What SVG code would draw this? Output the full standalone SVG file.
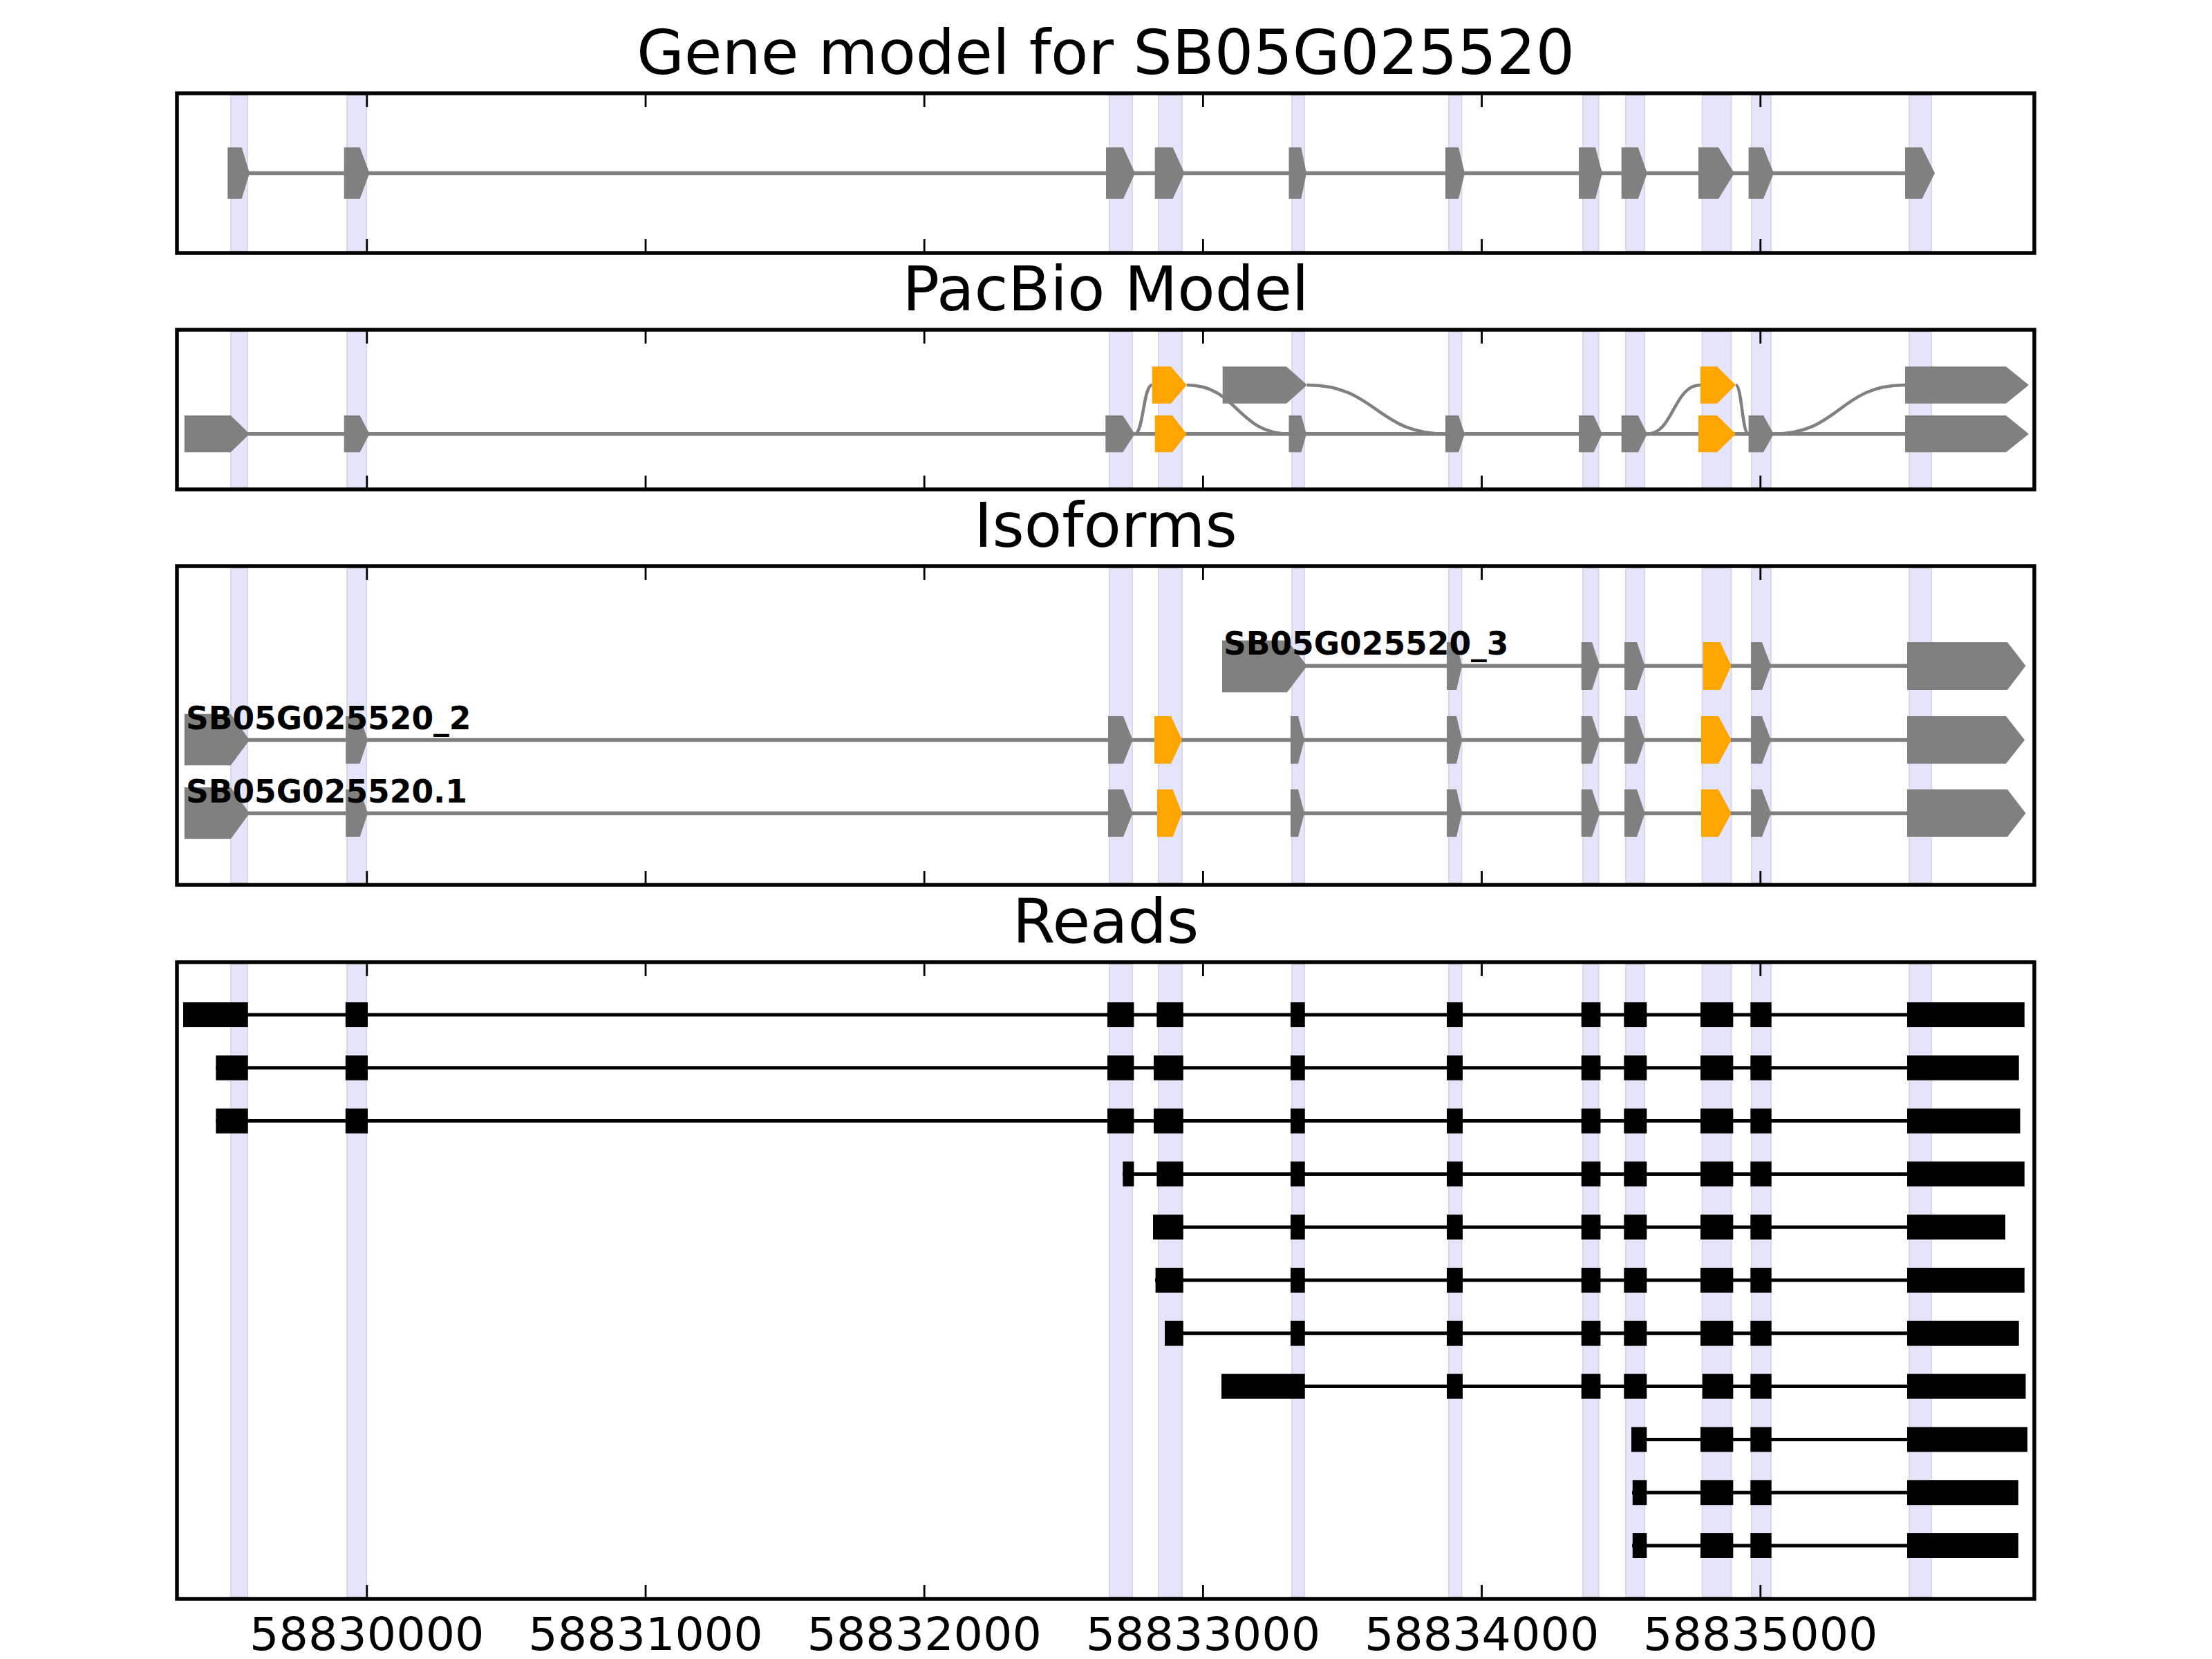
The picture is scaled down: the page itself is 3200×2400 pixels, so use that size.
<svg xmlns="http://www.w3.org/2000/svg" width="3200" height="2400" viewBox="0 0 3200 2400">
<style>
.bg{fill:#ffffff}
.band{fill:#e4e4fa;stroke:#d8d8e8;stroke-width:2}
.frame{fill:none;stroke:#000;stroke-width:5.5}
.tick{stroke:#000;stroke-width:2.8}
.title{font-family:"DejaVu Sans",sans-serif;font-size:88.9px;text-anchor:middle;fill:#000}
.ticklbl{font-family:"DejaVu Sans",sans-serif;font-size:66.7px;text-anchor:middle;fill:#000}
.lbl{font-family:"DejaVu Sans",sans-serif;font-size:45.5px;font-weight:bold;fill:#000}
.ex{fill:#808080}
.alt{fill:#ffa500}
.intron{stroke:#808080;stroke-width:5.5;fill:none}
.curve{stroke:#808080;stroke-width:4.5;fill:none}
.rintron{stroke:#000;stroke-width:5;fill:none}
.rb{fill:#000}
</style>
<rect class="bg" x="0" y="0" width="3200" height="2400"/>

<!-- highlight bands -->
<g id="bands">
<g id="bands-p1">
<rect class="band" x="334" y="138" width="24" height="225"/><rect class="band" x="502" y="138" width="28" height="225"/><rect class="band" x="1605" y="138" width="33" height="225"/><rect class="band" x="1676" y="138" width="34" height="225"/><rect class="band" x="1869" y="138" width="18" height="225"/><rect class="band" x="2096" y="138" width="18.5" height="225"/><rect class="band" x="2290" y="138" width="22.7" height="225"/><rect class="band" x="2352" y="138" width="27" height="225"/><rect class="band" x="2462.7" y="138" width="41.9" height="225"/><rect class="band" x="2534" y="138" width="28" height="225"/><rect class="band" x="2762" y="138" width="32" height="225"/>
</g>
<g id="bands-p2">
<rect class="band" x="334" y="480" width="24" height="225"/><rect class="band" x="502" y="480" width="28" height="225"/><rect class="band" x="1605" y="480" width="33" height="225"/><rect class="band" x="1676" y="480" width="34" height="225"/><rect class="band" x="1869" y="480" width="18" height="225"/><rect class="band" x="2096" y="480" width="18.5" height="225"/><rect class="band" x="2290" y="480" width="22.7" height="225"/><rect class="band" x="2352" y="480" width="27" height="225"/><rect class="band" x="2462.7" y="480" width="41.9" height="225"/><rect class="band" x="2534" y="480" width="28" height="225"/><rect class="band" x="2762" y="480" width="32" height="225"/>
</g>
<g id="bands-p3">
<rect class="band" x="334" y="822" width="24" height="455"/><rect class="band" x="502" y="822" width="28" height="455"/><rect class="band" x="1605" y="822" width="33" height="455"/><rect class="band" x="1676" y="822" width="34" height="455"/><rect class="band" x="1869" y="822" width="18" height="455"/><rect class="band" x="2096" y="822" width="18.5" height="455"/><rect class="band" x="2290" y="822" width="22.7" height="455"/><rect class="band" x="2352" y="822" width="27" height="455"/><rect class="band" x="2462.7" y="822" width="41.9" height="455"/><rect class="band" x="2534" y="822" width="28" height="455"/><rect class="band" x="2762" y="822" width="32" height="455"/>
</g>
<g id="bands-p4">
<rect class="band" x="334" y="1395" width="24" height="915"/><rect class="band" x="502" y="1395" width="28" height="915"/><rect class="band" x="1605" y="1395" width="33" height="915"/><rect class="band" x="1676" y="1395" width="34" height="915"/><rect class="band" x="1869" y="1395" width="18" height="915"/><rect class="band" x="2096" y="1395" width="18.5" height="915"/><rect class="band" x="2290" y="1395" width="22.7" height="915"/><rect class="band" x="2352" y="1395" width="27" height="915"/><rect class="band" x="2462.7" y="1395" width="41.9" height="915"/><rect class="band" x="2534" y="1395" width="28" height="915"/><rect class="band" x="2762" y="1395" width="32" height="915"/>
</g>
</g>

<!-- connectors: introns and splice curves -->
<g id="connectors">
<line class="intron" x1="340" y1="250.5" x2="2780" y2="250.5"/>
<line class="intron" x1="300" y1="627.7" x2="2800" y2="627.7"/>
<path class="curve" d="M1641.7 627.7 C1654 627.7 1654 557 1666.7 557"/>
<path class="curve" d="M1716.7 557 C1790 557 1790 627.7 1864.5 627.7"/>
<path class="curve" d="M1891 557 C1991 557 1991 627.7 2091 627.7"/>
<path class="curve" d="M2383 627.7 C2421 627.7 2421 557 2460 557"/>
<path class="curve" d="M2511 557 C2520 557 2520 627.7 2529.6 627.7"/>
<path class="curve" d="M2566 627.7 C2661 627.7 2661 557 2756 557"/>
<line class="intron" x1="1850" y1="963.3" x2="2800" y2="963.3"/>
<line class="intron" x1="300" y1="1070.4" x2="2800" y2="1070.4"/>
<line class="intron" x1="300" y1="1176.4" x2="2800" y2="1176.4"/>
<line class="rintron" x1="265" y1="1468" x2="2900" y2="1468"/>
<line class="rintron" x1="312" y1="1544.8" x2="2900" y2="1544.8"/>
<line class="rintron" x1="312" y1="1621.6" x2="2900" y2="1621.6"/>
<line class="rintron" x1="1624" y1="1698.4" x2="2900" y2="1698.4"/>
<line class="rintron" x1="1668" y1="1775.2" x2="2900" y2="1775.2"/>
<line class="rintron" x1="1671" y1="1852" x2="2900" y2="1852"/>
<line class="rintron" x1="1685" y1="1928.8" x2="2900" y2="1928.8"/>
<line class="rintron" x1="1767" y1="2005.6" x2="2900" y2="2005.6"/>
<line class="rintron" x1="2360" y1="2082.4" x2="2900" y2="2082.4"/>
<line class="rintron" x1="2361" y1="2159.2" x2="2900" y2="2159.2"/>
<line class="rintron" x1="2361" y1="2236" x2="2900" y2="2236"/>
</g>

<!-- Gene model -->
<g id="gene-model">
<polygon class="ex" points="329.3,213.3 349.7,213.3 361,250.5 349.7,287.7 329.3,287.7"/>
<polygon class="ex" points="497.7,213.3 520.6,213.3 534.6,250.5 520.6,287.7 497.7,287.7"/>
<polygon class="ex" points="1600,213.3 1625,213.3 1642,250.5 1625,287.7 1600,287.7"/>
<polygon class="ex" points="1670.7,213.3 1696.6,213.3 1713.6,250.5 1696.6,287.7 1670.7,287.7"/>
<polygon class="ex" points="1864.5,213.3 1882.3,213.3 1890,250.5 1882.3,287.7 1864.5,287.7"/>
<polygon class="ex" points="2091,213.3 2110,213.3 2119,250.5 2110,287.7 2091,287.7"/>
<polygon class="ex" points="2284,213.3 2308,213.3 2318,250.5 2308,287.7 2284,287.7"/>
<polygon class="ex" points="2345.7,213.3 2369.8,213.3 2383,250.5 2369.8,287.7 2345.7,287.7"/>
<polygon class="ex" points="2457,213.3 2486,213.3 2509,250.5 2486,287.7 2457,287.7"/>
<polygon class="ex" points="2529.6,213.3 2551,213.3 2566,250.5 2551,287.7 2529.6,287.7"/>
<polygon class="ex" points="2756,213.3 2780.5,213.3 2799,250.5 2780.5,287.7 2756,287.7"/>
</g>

<!-- PacBio model -->
<g id="pacbio-lower">
<polygon class="ex" points="266.8,601 333.75,601 361,627.7 333.75,654.3 266.8,654.3"/>
<polygon class="ex" points="497.7,601 520.6,601 534.6,627.7 520.6,654.3 497.7,654.3"/>
<polygon class="ex" points="1599.3,601 1624.3,601 1641.7,627.7 1624.3,654.3 1599.3,654.3"/>
<polygon class="alt" points="1670.7,601 1696,601 1716.7,627.7 1696,654.3 1670.7,654.3"/>
<polygon class="ex" points="1864.5,601 1882.5,601 1890,627.7 1882.5,654.3 1864.5,654.3"/>
<polygon class="ex" points="2091,601 2110,601 2119,627.7 2110,654.3 2091,654.3"/>
<polygon class="ex" points="2284,601 2305.5,601 2318,627.7 2305.5,654.3 2284,654.3"/>
<polygon class="ex" points="2345.7,601 2369.8,601 2383,627.7 2369.8,654.3 2345.7,654.3"/>
<polygon class="alt" points="2457,601 2484,601 2511,627.7 2484,654.3 2457,654.3"/>
<polygon class="ex" points="2529.6,601 2551,601 2566,627.7 2551,654.3 2529.6,654.3"/>
<polygon class="ex" points="2756,601 2902,601 2935,627.7 2902,654.3 2756,654.3"/>
</g>
<g id="pacbio-upper">
<polygon class="alt" points="1666.7,530.3 1694,530.3 1716.7,557 1694,583.7 1666.7,583.7"/>
<polygon class="ex" points="1768.7,530.3 1861,530.3 1891,557 1861,583.7 1768.7,583.7"/>
<polygon class="alt" points="2460,530.3 2484,530.3 2511,557 2484,583.7 2460,583.7"/>
<polygon class="ex" points="2756,530.3 2902,530.3 2935,557 2902,583.7 2756,583.7"/>
</g>

<!-- Isoforms -->
<g id="iso-3">
<polygon class="ex" points="1768,926.5 1862,926.5 1891,963.3 1862,1001.5 1768,1001.5"/>
<polygon class="ex" points="2093,929 2107,929 2115,963.3 2107,998 2093,998"/>
<polygon class="ex" points="2287.7,929 2303,929 2314.5,963.3 2303,998 2287.7,998"/>
<polygon class="ex" points="2350,929 2368,929 2379.6,963.3 2368,998 2350,998"/>
<polygon class="alt" points="2463.6,929 2488.6,929 2504.6,963.3 2488.6,998 2463.6,998"/>
<polygon class="ex" points="2533,929 2549,929 2562,963.3 2549,998 2533,998"/>
<polygon class="ex" points="2759,929 2904,929 2930.5,963.3 2904,998 2759,998"/>
<text class="lbl" x="1770" y="946.7">SB05G025520_3</text>
</g>
<g id="iso-2">
<polygon class="ex" points="266.8,1032.7 333.75,1032.7 361,1070.4 333.75,1107.3 266.8,1107.3"/>
<polygon class="ex" points="500.2,1036 520.6,1036 532,1070.4 520.6,1104.7 500.2,1104.7"/>
<polygon class="ex" points="1603,1036 1625,1036 1638.6,1070.4 1625,1104.7 1603,1104.7"/>
<polygon class="alt" points="1670,1036 1694,1036 1710,1070.4 1694,1104.7 1670,1104.7"/>
<polygon class="ex" points="1867,1036 1878,1036 1887,1070.4 1878,1104.7 1867,1104.7"/>
<polygon class="ex" points="2093,1036 2107,1036 2115,1070.4 2107,1104.7 2093,1104.7"/>
<polygon class="ex" points="2287.7,1036 2303,1036 2314.5,1070.4 2303,1104.7 2287.7,1104.7"/>
<polygon class="ex" points="2350,1036 2368,1036 2379.6,1070.4 2368,1104.7 2350,1104.7"/>
<polygon class="alt" points="2461,1036 2486,1036 2504.6,1070.4 2486,1104.7 2461,1104.7"/>
<polygon class="ex" points="2533,1036 2549,1036 2562,1070.4 2549,1104.7 2533,1104.7"/>
<polygon class="ex" points="2759,1036 2902,1036 2929,1070.4 2902,1104.7 2759,1104.7"/>
<text class="lbl" x="269" y="1055">SB05G025520_2</text>
</g>
<g id="iso-1">
<polygon class="ex" points="266.8,1139 333.75,1139 361,1176.4 333.75,1213.7 266.8,1213.7"/>
<polygon class="ex" points="500.2,1142 520.6,1142 532,1176.4 520.6,1210.7 500.2,1210.7"/>
<polygon class="ex" points="1603,1142 1625,1142 1638.6,1176.4 1625,1210.7 1603,1210.7"/>
<polygon class="alt" points="1674,1142 1696.6,1142 1710,1176.4 1696.6,1210.7 1674,1210.7"/>
<polygon class="ex" points="1867,1142 1878,1142 1887,1176.4 1878,1210.7 1867,1210.7"/>
<polygon class="ex" points="2093,1142 2107,1142 2115,1176.4 2107,1210.7 2093,1210.7"/>
<polygon class="ex" points="2287.7,1142 2303,1142 2314.5,1176.4 2303,1210.7 2287.7,1210.7"/>
<polygon class="ex" points="2350,1142 2368,1142 2379.6,1176.4 2368,1210.7 2350,1210.7"/>
<polygon class="alt" points="2461,1142 2486,1142 2504.6,1176.4 2486,1210.7 2461,1210.7"/>
<polygon class="ex" points="2533,1142 2549,1142 2562,1176.4 2549,1210.7 2533,1210.7"/>
<polygon class="ex" points="2759,1142 2904,1142 2930.5,1176.4 2904,1210.7 2759,1210.7"/>
<text class="lbl" x="269" y="1160.7">SB05G025520.1</text>
</g>

<!-- Reads -->
<g id="read-1" transform="translate(0,1468)">
<rect class="rb" x="265" y="-18" width="93.75" height="36"/><rect class="rb" x="499.8" y="-18" width="32.2" height="36"/><rect class="rb" x="1602" y="-18" width="38.4" height="36"/><rect class="rb" x="1673.4" y="-18" width="38.4" height="36"/><rect class="rb" x="1867" y="-18" width="20.7" height="36"/><rect class="rb" x="2093" y="-18" width="23" height="36"/><rect class="rb" x="2287.7" y="-18" width="27.7" height="36"/><rect class="rb" x="2349.3" y="-18" width="33" height="36"/><rect class="rb" x="2460" y="-18" width="47.3" height="36"/><rect class="rb" x="2532.3" y="-18" width="30.4" height="36"/><rect class="rb" x="2759" y="-18" width="169.75" height="36"/>
</g>
<g id="read-2" transform="translate(0,1544.8)">
<rect class="rb" x="312.3" y="-18" width="46.45" height="36"/><rect class="rb" x="499.8" y="-18" width="32.2" height="36"/><rect class="rb" x="1602" y="-18" width="38.4" height="36"/><rect class="rb" x="1669" y="-18" width="42.8" height="36"/><rect class="rb" x="1867" y="-18" width="20.7" height="36"/><rect class="rb" x="2093" y="-18" width="23" height="36"/><rect class="rb" x="2287.7" y="-18" width="27.7" height="36"/><rect class="rb" x="2349.3" y="-18" width="33" height="36"/><rect class="rb" x="2460" y="-18" width="47.3" height="36"/><rect class="rb" x="2532.3" y="-18" width="30.4" height="36"/><rect class="rb" x="2759" y="-18" width="161.7" height="36"/>
</g>
<g id="read-3" transform="translate(0,1621.6)">
<rect class="rb" x="312.3" y="-18" width="46.45" height="36"/><rect class="rb" x="499.8" y="-18" width="32.2" height="36"/><rect class="rb" x="1602" y="-18" width="38.4" height="36"/><rect class="rb" x="1669" y="-18" width="42.8" height="36"/><rect class="rb" x="1867" y="-18" width="20.7" height="36"/><rect class="rb" x="2093" y="-18" width="23" height="36"/><rect class="rb" x="2287.7" y="-18" width="27.7" height="36"/><rect class="rb" x="2349.3" y="-18" width="33" height="36"/><rect class="rb" x="2460" y="-18" width="47.3" height="36"/><rect class="rb" x="2532.3" y="-18" width="30.4" height="36"/><rect class="rb" x="2759" y="-18" width="163.5" height="36"/>
</g>
<g id="read-4" transform="translate(0,1698.4)">
<rect class="rb" x="1624.3" y="-18" width="16.1" height="36"/><rect class="rb" x="1673.4" y="-18" width="38.4" height="36"/><rect class="rb" x="1867" y="-18" width="20.7" height="36"/><rect class="rb" x="2093" y="-18" width="23" height="36"/><rect class="rb" x="2287.7" y="-18" width="27.7" height="36"/><rect class="rb" x="2349.3" y="-18" width="33" height="36"/><rect class="rb" x="2460" y="-18" width="47.3" height="36"/><rect class="rb" x="2532.3" y="-18" width="30.4" height="36"/><rect class="rb" x="2759" y="-18" width="169.75" height="36"/>
</g>
<g id="read-5" transform="translate(0,1775.2)">
<rect class="rb" x="1668" y="-18" width="43.8" height="36"/><rect class="rb" x="1867" y="-18" width="20.7" height="36"/><rect class="rb" x="2093" y="-18" width="23" height="36"/><rect class="rb" x="2287.7" y="-18" width="27.7" height="36"/><rect class="rb" x="2349.3" y="-18" width="33" height="36"/><rect class="rb" x="2460" y="-18" width="47.3" height="36"/><rect class="rb" x="2532.3" y="-18" width="30.4" height="36"/><rect class="rb" x="2759" y="-18" width="142" height="36"/>
</g>
<g id="read-6" transform="translate(0,1852)">
<rect class="rb" x="1671.6" y="-18" width="40.2" height="36"/><rect class="rb" x="1867" y="-18" width="20.7" height="36"/><rect class="rb" x="2093" y="-18" width="23" height="36"/><rect class="rb" x="2287.7" y="-18" width="27.7" height="36"/><rect class="rb" x="2349.3" y="-18" width="33" height="36"/><rect class="rb" x="2460" y="-18" width="47.3" height="36"/><rect class="rb" x="2532.3" y="-18" width="30.4" height="36"/><rect class="rb" x="2759" y="-18" width="169.75" height="36"/>
</g>
<g id="read-7" transform="translate(0,1928.8)">
<rect class="rb" x="1685" y="-18" width="26.8" height="36"/><rect class="rb" x="1867" y="-18" width="20.7" height="36"/><rect class="rb" x="2093" y="-18" width="23" height="36"/><rect class="rb" x="2287.7" y="-18" width="27.7" height="36"/><rect class="rb" x="2349.3" y="-18" width="33" height="36"/><rect class="rb" x="2460" y="-18" width="47.3" height="36"/><rect class="rb" x="2532.3" y="-18" width="30.4" height="36"/><rect class="rb" x="2759" y="-18" width="161.7" height="36"/>
</g>
<g id="read-8" transform="translate(0,2005.6)">
<rect class="rb" x="1767" y="-18" width="120.7" height="36"/><rect class="rb" x="2093" y="-18" width="23" height="36"/><rect class="rb" x="2287.7" y="-18" width="27.7" height="36"/><rect class="rb" x="2349.3" y="-18" width="33" height="36"/><rect class="rb" x="2462.7" y="-18" width="44.6" height="36"/><rect class="rb" x="2532.3" y="-18" width="30.4" height="36"/><rect class="rb" x="2759" y="-18" width="171.5" height="36"/>
</g>
<g id="read-9" transform="translate(0,2082.4)">
<rect class="rb" x="2360" y="-18" width="22.3" height="36"/><rect class="rb" x="2460" y="-18" width="47.3" height="36"/><rect class="rb" x="2532.3" y="-18" width="30.4" height="36"/><rect class="rb" x="2759" y="-18" width="174" height="36"/>
</g>
<g id="read-10" transform="translate(0,2159.2)">
<rect class="rb" x="2361.8" y="-18" width="20.5" height="36"/><rect class="rb" x="2460" y="-18" width="47.3" height="36"/><rect class="rb" x="2532.3" y="-18" width="30.4" height="36"/><rect class="rb" x="2759" y="-18" width="160.8" height="36"/>
</g>
<g id="read-11" transform="translate(0,2236)">
<rect class="rb" x="2361.8" y="-18" width="20.5" height="36"/><rect class="rb" x="2460" y="-18" width="47.3" height="36"/><rect class="rb" x="2532.3" y="-18" width="30.4" height="36"/><rect class="rb" x="2759" y="-18" width="160.8" height="36"/>
</g>

<!-- axes frames, ticks, titles -->
<g id="axes">
<rect class="frame" x="256" y="135" width="2687" height="231"/>
<rect class="frame" x="256" y="477" width="2687" height="231"/>
<rect class="frame" x="256" y="819" width="2687" height="461"/>
<rect class="frame" x="256" y="1392" width="2687" height="921"/>
<g id="ticks">
<path class="tick" d="M530.8 135v20M934 135v20M1337.2 135v20M1740.4 135v20M2143.6 135v20M2546.8 135v20M530.8 366v-20M934 366v-20M1337.2 366v-20M1740.4 366v-20M2143.6 366v-20M2546.8 366v-20"/>
<path class="tick" d="M530.8 477v20M934 477v20M1337.2 477v20M1740.4 477v20M2143.6 477v20M2546.8 477v20M530.8 708v-20M934 708v-20M1337.2 708v-20M1740.4 708v-20M2143.6 708v-20M2546.8 708v-20"/>
<path class="tick" d="M530.8 819v20M934 819v20M1337.2 819v20M1740.4 819v20M2143.6 819v20M2546.8 819v20M530.8 1280v-20M934 1280v-20M1337.2 1280v-20M1740.4 1280v-20M2143.6 1280v-20M2546.8 1280v-20"/>
<path class="tick" d="M530.8 1392v20M934 1392v20M1337.2 1392v20M1740.4 1392v20M2143.6 1392v20M2546.8 1392v20M530.8 2313v-20M934 2313v-20M1337.2 2313v-20M1740.4 2313v-20M2143.6 2313v-20M2546.8 2313v-20"/>
</g>
<text class="title" x="1599.5" y="107">Gene model for SB05G025520</text>
<text class="title" x="1599.5" y="449">PacBio Model</text>
<text class="title" x="1599.5" y="791">Isoforms</text>
<text class="title" x="1599.5" y="1364">Reads</text>
<text class="ticklbl" x="530.8" y="2387">58830000</text>
<text class="ticklbl" x="934" y="2387">58831000</text>
<text class="ticklbl" x="1337.2" y="2387">58832000</text>
<text class="ticklbl" x="1740.4" y="2387">58833000</text>
<text class="ticklbl" x="2143.6" y="2387">58834000</text>
<text class="ticklbl" x="2546.8" y="2387">58835000</text>
</g>
</svg>
